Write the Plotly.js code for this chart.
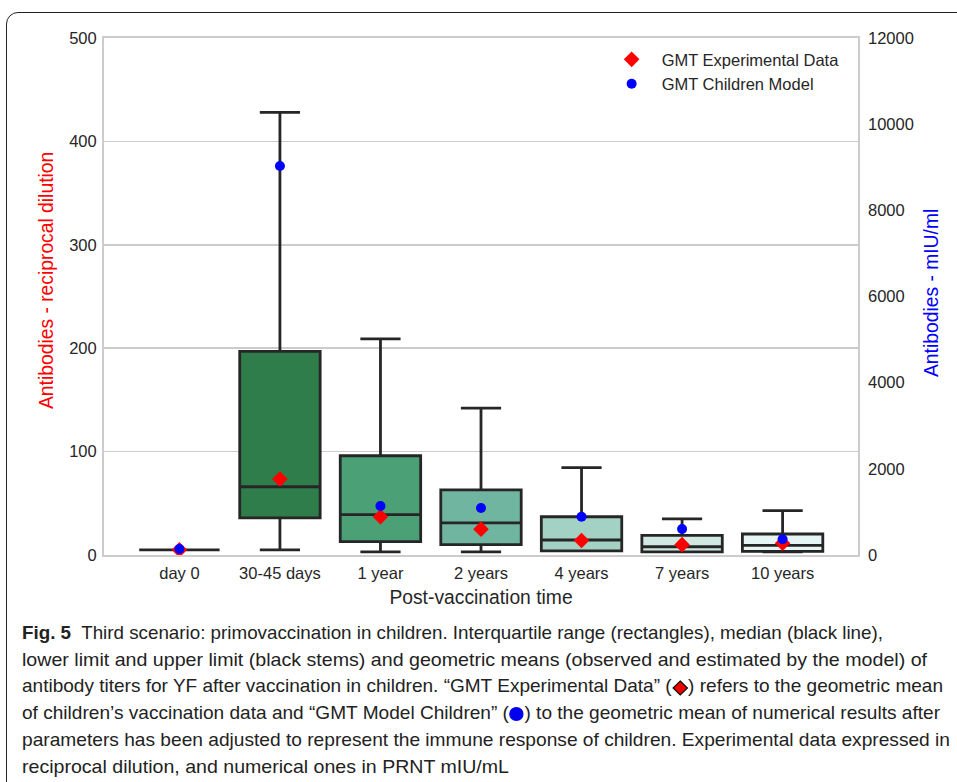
<!DOCTYPE html>
<html>
<head>
<meta charset="utf-8">
<script src="https://cdn.plot.ly/plotly-3.0.1.min.js"></script>
<style>
  html, body { margin:0; padding:0; background:#fff; width:957px; height:782px; overflow:hidden; }
  #frame { position:absolute; left:6px; top:12px; width:980px; height:800px; border:1.5px solid #222; border-top-left-radius:12px; box-sizing:border-box; }
  #chart { position:absolute; left:0; top:0; width:957px; height:782px; }
  #caption { position:absolute; left:22px; top:620px; font-family:"Liberation Sans",Arial,sans-serif; font-size:18.5px; color:#222; line-height:26.7px; white-space:nowrap; }
  #caption div { transform-origin:0 50%; width:max-content; }
  #caption b { font-weight:bold; }
  .sym { display:inline-block; vertical-align:middle; }
</style>
</head>
<body>
<div id="frame"></div>
<div id="chart"></div>
<div id="caption">
<div data-w="861"><b>Fig. 5</b>&nbsp; Third scenario: primovaccination in children. Interquartile range (rectangles), median (black line),</div>
<div data-w="905">lower limit and upper limit (black stems) and geometric means (observed and estimated by the model) of</div>
<div data-w="921">antibody titers for YF after vaccination in children. “GMT Experimental Data” (<svg class="sym" width="16" height="16" viewBox="0 0 16 16"><polygon points="8,1 15,8 8,15 1,8" fill="#e00" stroke="#111" stroke-width="1.2"/></svg>) refers to the geometric mean</div>
<div data-w="918">of children’s vaccination data and “GMT Model Children” (<svg class="sym" width="15" height="16" viewBox="0 0 15 16"><ellipse cx="7.5" cy="8" rx="7" ry="7" fill="#0000ee"/></svg>) to the geometric mean of numerical results after</div>
<div data-w="928">parameters has been adjusted to represent the immune response of children. Experimental data expressed in</div>
<div data-w="487">reciprocal dilution, and numerical ones in PRNT mIU/mL</div>
</div>
<script>
const categories = ["day 0", "30-45 days", "1 year", "2 years", "4 years", "7 years", "10 years"];
const lowerFence = [5, 5, 3, 3, 4, 3, 3];
const q1 = [5, 36, 13, 10, 4, 3, 3.5];
const median = [5, 66, 39, 31, 14.5, 8, 9.3];
const q3 = [5, 197, 96, 63, 37, 19, 20.3];
const upperFence = [5, 428, 209, 142, 84.5, 35, 43];
const gmtExperimental = [5, 73.5, 37, 25, 14, 10, 11.3];
const gmtModel = [139, 9030, 1137, 1092, 889, 604, 365];
const leftTicks = [0, 100, 200, 300, 400, 500];
const rightTicks = [0, 2000, 4000, 6000, 8000, 10000, 12000];
const boxColors = ["#1b6a3a", "#2e7d4a", "#4ba075", "#6fb5a0", "#a3d2c4", "#d1e8e2", "#e7f4f5"];

const font = "Liberation Sans, Arial, sans-serif";
const tickFont = { family: font, size: 16.5, color: "#262626" };
const traces = categories.map((c, i) => ({
  type: "box",
  x: [c],
  q1: [q1[i]], median: [median[i]], q3: [q3[i]],
  lowerfence: [lowerFence[i]], upperfence: [upperFence[i]],
  fillcolor: boxColors[i],
  line: { color: "#262626", width: 2.8 },
  width: 0.8,
  whiskerwidth: 0.5,
  showlegend: false,
  hoverinfo: "skip",
  yaxis: "y"
}));
traces.push({
  type: "scatter", mode: "markers", name: "GMT Experimental Data",
  x: categories, y: gmtExperimental, yaxis: "y",
  marker: { symbol: "diamond", color: "#ff0000", size: 12 }
});
traces.push({
  type: "scatter", mode: "markers", name: "GMT Children Model",
  x: categories, y: gmtModel, yaxis: "y2",
  marker: { symbol: "circle", color: "#0000ff", size: 10 }
});

const layout = {
  width: 957, height: 782,
  paper_bgcolor: "rgba(0,0,0,0)", plot_bgcolor: "#fff",
  margin: { l: 104, r: 99, t: 38, b: 227 },
  font: { family: font, size: 16.5, color: "#262626" },
  xaxis: {
    type: "category", categoryorder: "array", categoryarray: categories,
    range: [-0.75, 6.75],
    showline: true, mirror: true, linecolor: "#cccccc", linewidth: 2,
    showgrid: false, ticks: "", ticklen: 0, ticklabelstandoff: 2,
    tickfont: tickFont,
    title: { text: "Post-vaccination time", font: { family: font, size: 19.3, color: "#262626" }, standoff: 10 },
    automargin: false, fixedrange: true
  },
  yaxis: {
    range: [0, 500], tickvals: leftTicks, ticktext: leftTicks.map(String),
    showline: true, mirror: true, linecolor: "#cccccc", linewidth: 2,
    showgrid: true, gridcolor: "#cccccc", gridwidth: 1.5, zeroline: false,
    ticks: "", ticklen: 0, ticklabelstandoff: 2,
    tickfont: tickFont,
    automargin: false, fixedrange: true
  },
  yaxis2: {
    overlaying: "y", side: "right",
    range: [0, 12000], tickvals: rightTicks, ticktext: rightTicks.map(String),
    showgrid: false, zeroline: false, showline: false,
    ticks: "", ticklabelstandoff: 9,
    tickfont: tickFont,
    automargin: false, fixedrange: true
  },
  annotations: [
    { text: "Antibodies - reciprocal dilution", textangle: -90, showarrow: false,
      xref: "paper", yref: "paper", x: (46 - 104) / 754, y: (555 - 281) / 517,
      xanchor: "center", yanchor: "middle",
      font: { family: font, size: 19.3, color: "#ff0000" } },
    { text: "Antibodies - mIU/ml", textangle: -90, showarrow: false,
      xref: "paper", yref: "paper", x: (931 - 104) / 754, y: (555 - 293) / 517,
      xanchor: "center", yanchor: "middle",
      font: { family: font, size: 19.3, color: "#0000ff" } }
  ],
  legend: {
    x: 0.66, y: 0.992, xanchor: "left", yanchor: "top",
    bgcolor: "rgba(0,0,0,0)", borderwidth: 0,
    font: { family: font, size: 16.5, color: "#262626" },
    tracegroupgap: 0, itemwidth: 50
  },
  showlegend: true
};

Plotly.newPlot("chart", traces, layout, { displayModeBar: false, staticPlot: true });

document.querySelectorAll("#caption div").forEach(d => {
  const target = parseFloat(d.dataset.w);
  const w = d.getBoundingClientRect().width;
  if (w > 0) d.style.transform = "scaleX(" + (target / w) + ")";
});
</script>
</body>
</html>
